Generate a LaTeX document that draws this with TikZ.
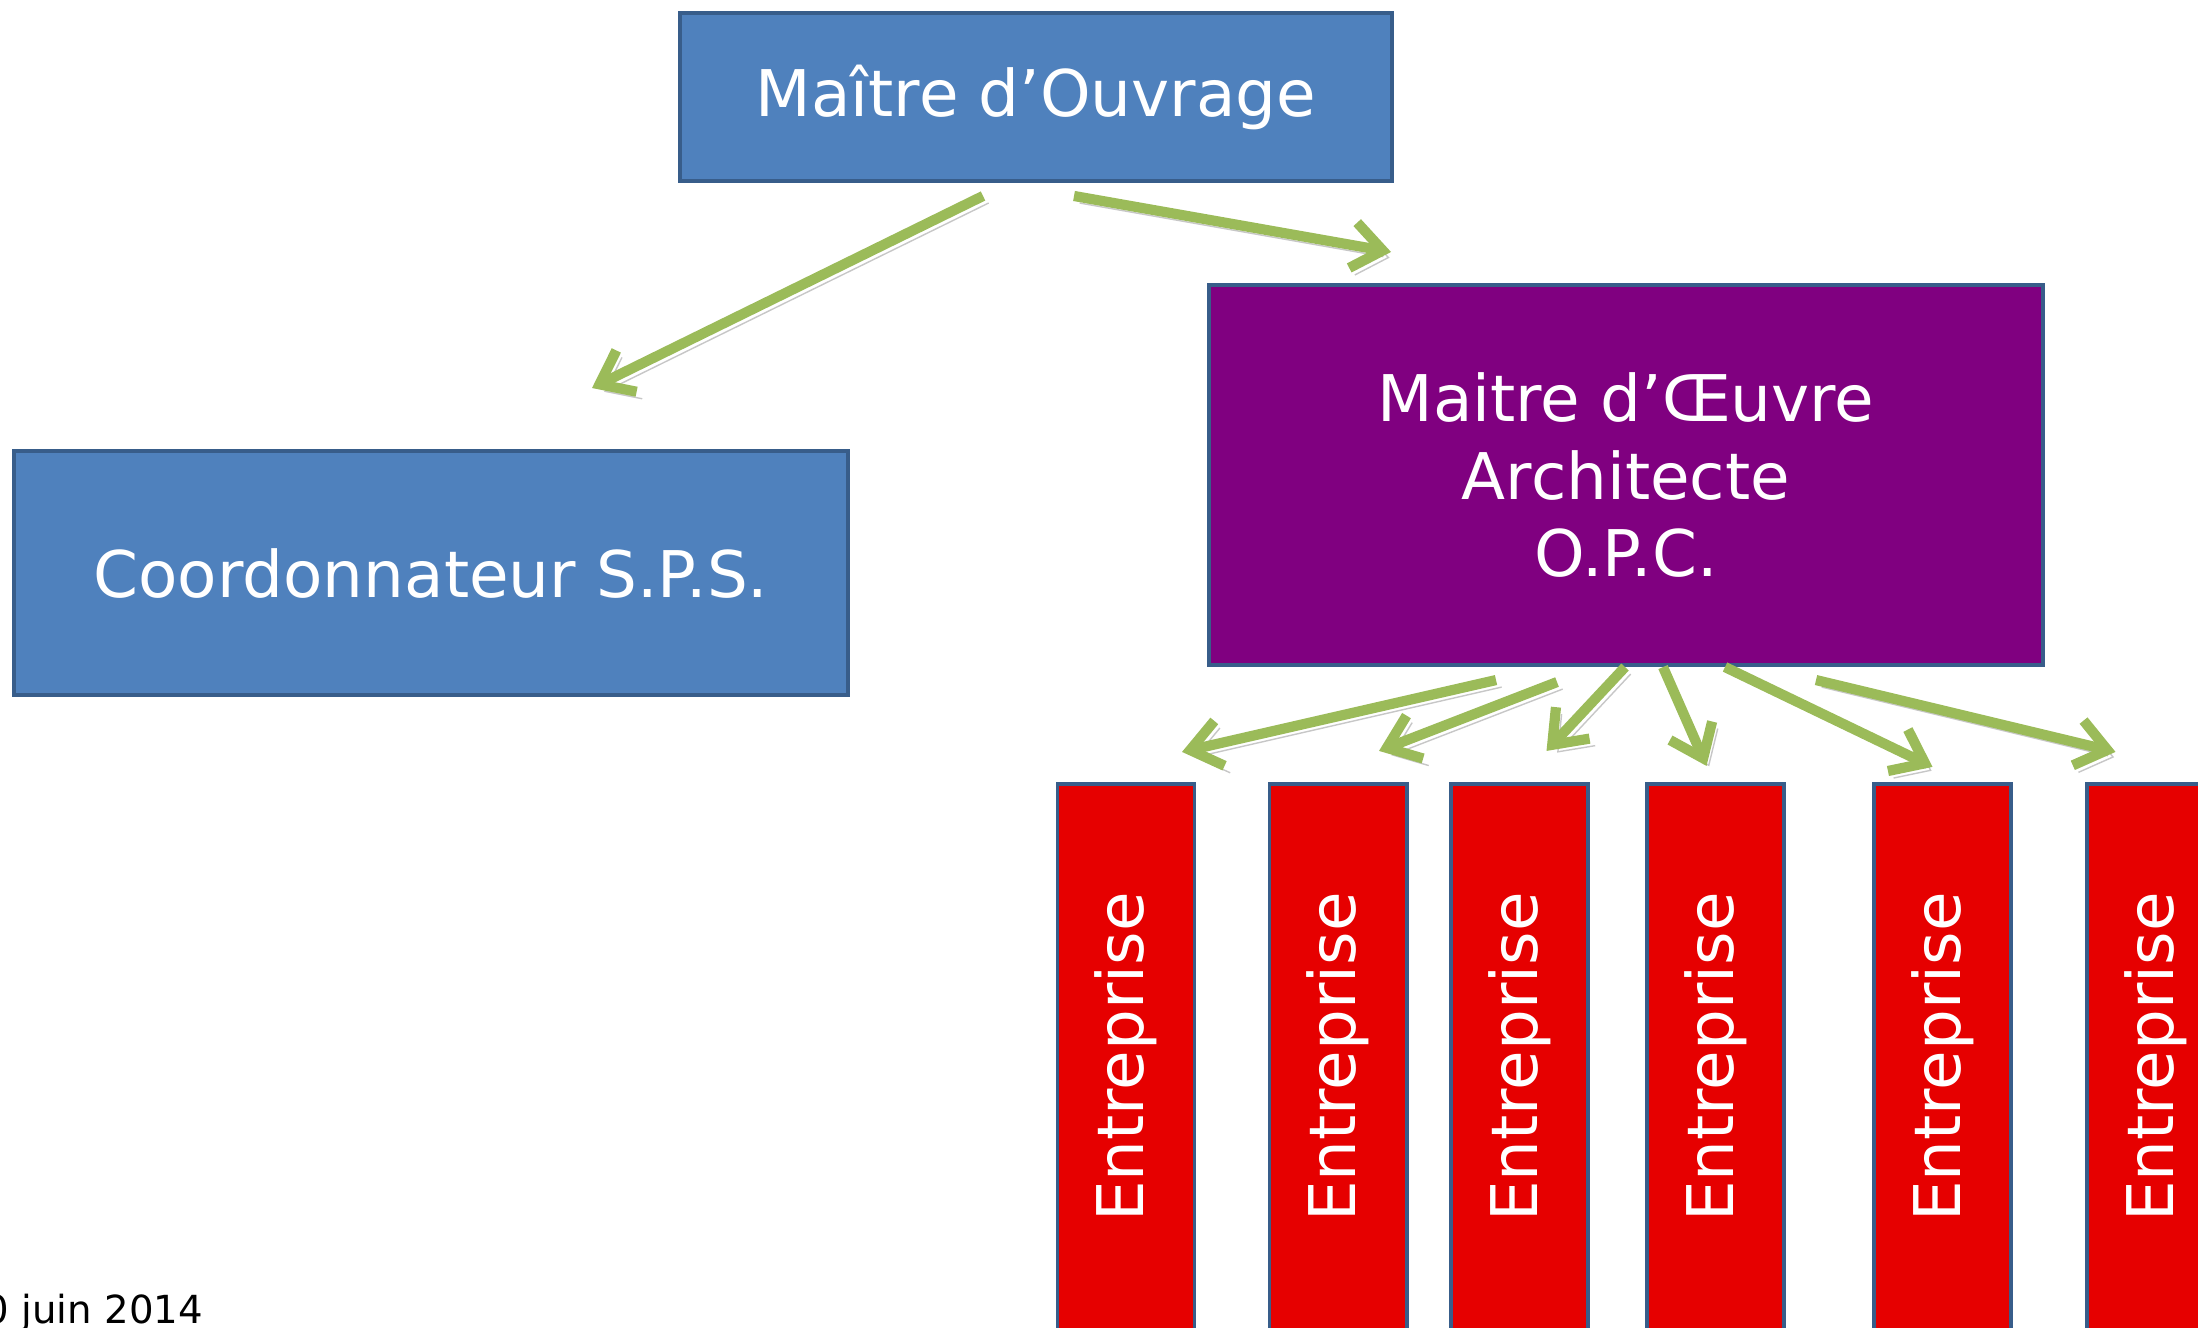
\documentclass[tikz,border=0pt]{standalone}
\usepackage{fontspec}
\setmainfont{DejaVu Sans}
\usepackage{xcolor}
\usepackage{tikz}
\usetikzlibrary{arrows.meta,positioning}
\definecolor{boxBlue}{HTML}{4F81BD}
\definecolor{edgeBlue}{HTML}{385D8A}
\definecolor{boxPurple}{HTML}{800080}
\definecolor{boxRed}{HTML}{E60000}
\definecolor{arrowGreen}{HTML}{9BBB59}
\tikzset{
  blueBox/.style={
    rectangle,
    draw=edgeBlue,
    line width=1.1pt,
    fill=boxBlue,
    text=white,
    align=center,
    inner sep=0pt
  },
  purpleBox/.style={
    blueBox,
    fill=boxPurple
  },
  redBar/.style={
    blueBox,
    fill=boxRed,
    minimum width=1.37cm,
    minimum height=5.46cm
  },
  arrowLine/.style={
    draw=arrowGreen,
    line width=2.9pt,
    -{Straight Barb[length=3mm,width=4.6mm]},
    preaction={draw=black, opacity=0.22, transform canvas={shift={(1.6pt,-2pt)}}}
  }
}

\begin{document}
\begin{tikzpicture}[
            x=0.01cm, y=-0.01cm,
            every node/.style={font=\fontsize{18.3}{22}\selectfont}
        ]
        \useasboundingbox (0,0) rectangle (2198,1327);

        \node[blueBox, minimum width=7.12cm, minimum height=1.68cm] (ouvrage) at (1036,97) {Maître d’Ouvrage};
        \node[blueBox, minimum width=8.34cm, minimum height=2.44cm] (sps) at (431,573) {Coordonnateur S.P.S.};
        \node[purpleBox, minimum width=8.34cm, minimum height=3.80cm] (oeuvre) at (1626,475) {Maitre d’Œuvre\\Architecte\\O.P.C.};

        % entreprises
        \node[redBar] (ent1) at (1126,1057) {\rotatebox{90}{Entreprise}};
        \node[redBar] (ent2) at (1338,1057) {\rotatebox{90}{Entreprise}};
        \node[redBar] (ent3) at (1519.5,1057) {\rotatebox{90}{Entreprise}};
        \node[redBar] (ent4) at (1715.5,1057) {\rotatebox{90}{Entreprise}};
        \node[redBar] (ent5) at (1942.5,1057) {\rotatebox{90}{Entreprise}};
        \node[redBar] (ent6) at (2155.5,1057) {\rotatebox{90}{Entreprise}};

        \node[anchor=base west, inner sep=0pt, font=\fontsize{11}{13}\selectfont] (date) at (-16,1323) {0 juin 2014};

        \draw[arrowLine] ([shift={(-53,13)}]ouvrage.south) -- ([shift={(161,-61)}]sps.north);
        \draw[arrowLine] ([shift={(38,13)}]ouvrage.south) -- ([shift={(-235,-31)}]oeuvre.north);

        \draw[arrowLine] ([shift={(-130,13)}]oeuvre.south) -- ([shift={(56,-30)}]ent1.north);
        \draw[arrowLine] ([shift={(-69,15)}]oeuvre.south) -- ([shift={(41,-31)}]ent2.north);
        \draw[arrowLine] ([shift={(-1,0)}]oeuvre.south) -- ([shift={(27,-31)}]ent3.north);
        \draw[arrowLine] ([shift={(37,0)}]oeuvre.south) -- ([shift={(-9,-16)}]ent4.north);
        \draw[arrowLine] ([shift={(99,0)}]oeuvre.south) -- ([shift={(-10,-15)}]ent5.north);
        \draw[arrowLine] ([shift={(190,13)}]oeuvre.south) -- ([shift={(-40,-30)}]ent6.north);

    \end{tikzpicture}
\end{document}
